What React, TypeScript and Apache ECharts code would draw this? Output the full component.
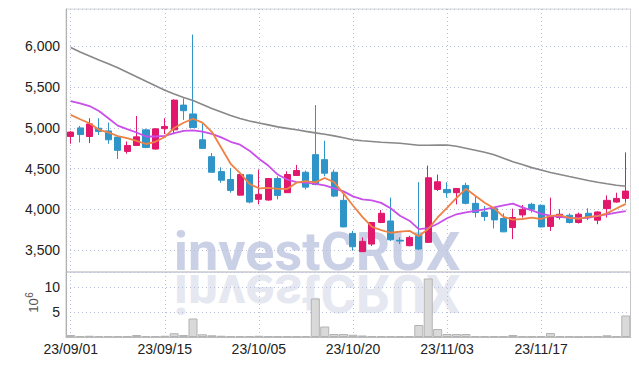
import React, { useEffect, useRef } from "react";
import * as echarts from "echarts";

const dates = [
  "23/09/01","23/09/04","23/09/05","23/09/06","23/09/07","23/09/08","23/09/11","23/09/12","23/09/13","23/09/14",
  "23/09/15","23/09/18","23/09/19","23/09/20","23/09/21","23/09/22","23/09/25","23/09/26","23/09/27","23/10/04",
  "23/10/05","23/10/06","23/10/10","23/10/11","23/10/12","23/10/13","23/10/16","23/10/17","23/10/18","23/10/19",
  "23/10/20","23/10/23","23/10/24","23/10/25","23/10/26","23/10/27","23/10/30","23/10/31","23/11/01","23/11/02",
  "23/11/03","23/11/06","23/11/07","23/11/08","23/11/09","23/11/10","23/11/13","23/11/14","23/11/15","23/11/16",
  "23/11/17","23/11/20","23/11/21","23/11/22","23/11/23","23/11/24","23/11/27","23/11/28","23/11/29","23/11/30",
];

const opens = [
  4894, 5000, 4894, 4996, 4963, 4887, 4711, 4784, 4976, 4740,
  4991, 4976, 5280, 5171, 4854, 4646, 4463, 4366, 4174, 4423,
  4122, 4114, 4378, 4204, 4415, 4455, 4671, 4610, 4455, 4110,
  3704, 3480, 3573, 3838, 3857, 3620, 3553, 3675, 3594, 4244,
  4244, 4204, 4293, 4073, 3967, 4008, 3887, 3777, 3931, 4061,
  4049, 3789, 3899, 3927, 3838, 3951, 3866, 4008, 4089, 4134,
];
const closes = [
  4948, 4918, 5049, 4955, 4854, 4724, 4784, 4890, 4760, 4988,
  5016, 5341, 5211, 5004, 4748, 4455, 4357, 4232, 4427, 4089,
  4183, 4378, 4171, 4427, 4476, 4272, 4305, 4443, 4162, 3784,
  3540, 3606, 3838, 3951, 3626, 3610, 3655, 3512, 4387, 4338,
  4204, 4256, 4073, 3960, 3911, 3870, 3723, 3899, 4000, 4000,
  3784, 3918, 3939, 3838, 3939, 3899, 3967, 4110, 4134, 4224,
];
const lows = [
  4805, 4821, 4813, 4914, 4805, 4618, 4683, 4784, 4750, 4735,
  4923, 4923, 5098, 5000, 4745, 4450, 4326, 4204, 4170, 4073,
  4061, 4105, 4122, 4200, 4410, 4244, 4293, 4406, 4150, 3780,
  3492, 3475, 3550, 3830, 3610, 3573, 3545, 3500, 3590, 4224,
  4143, 4060, 4060, 3900, 3857, 3765, 3720, 3634, 3899, 3960,
  3777, 3735, 3875, 3826, 3826, 3866, 3817, 3899, 4081, 4081,
];
const highs = [
  4960, 5024, 5118, 5118, 5065, 4890, 4833, 5146, 4990, 4995,
  5118, 5350, 5362, 6146, 5049, 4691, 4516, 4508, 4430, 4430,
  4488, 4385, 4406, 4467, 4545, 4476, 5280, 4841, 4488, 4191,
  3735, 3655, 3840, 3992, 4143, 3655, 3675, 4333, 4537, 4427,
  4333, 4260, 4326, 4160, 4040, 4028, 3950, 4008, 4053, 4081,
  4060, 4143, 4000, 3951, 3960, 4012, 3975, 4171, 4204, 4699,
];

const ma5 = [
  5159, 5106, 5057, 4976, 4945, 4900, 4873, 4841, 4802, 4829,
  4888, 4999, 5063, 5112, 5064, 4952, 4755, 4559, 4444, 4312,
  4258, 4262, 4250, 4250, 4327, 4345, 4330, 4385, 4332, 4193,
  4047, 3907, 3786, 3744, 3712, 3726, 3736, 3671, 3758, 3900,
  4019, 4139, 4252, 4166, 4081, 4014, 3907, 3873, 3881, 3898,
  3881, 3920, 3928, 3896, 3884, 3907, 3916, 3951, 4010, 4067,
];
const ma20 = [
  5329, 5301, 5268, 5207, 5118, 5028, 4984, 4943, 4894, 4894,
  4902, 4935, 4963, 4970, 4955, 4927, 4884, 4829, 4793, 4720,
  4622, 4537, 4427, 4366, 4335, 4329, 4311, 4293, 4256, 4220,
  4159, 4122, 4110, 4079, 4012, 3921, 3860, 3756, 3768, 3823,
  3890, 3939, 3963, 3982, 4000, 4024, 4049, 4070, 4024, 3988,
  3945, 3921, 3906, 3894, 3890, 3896, 3921, 3939, 3960, 3979,
];
const ma60 = [
  5988, 5933, 5884, 5835, 5787, 5738, 5683, 5628, 5573, 5518,
  5463, 5415, 5372, 5335, 5287, 5238, 5195, 5152, 5116, 5085,
  5061, 5037, 5012, 4994, 4976, 4957, 4939, 4921, 4902, 4878,
  4854, 4841, 4832, 4823, 4817, 4811, 4799, 4787, 4787, 4788,
  4789, 4774, 4750, 4726, 4701, 4671, 4628, 4585, 4549, 4512,
  4482, 4451, 4427, 4402, 4378, 4354, 4333, 4313, 4296, 4284,
];
const volumes = [
  0.4, 0.2, 0.25, 0.2, 0.2, 0.2, 0.15, 0.4, 0.2, 0.2,
  0.25, 0.75, 0.4, 3.7, 0.55, 0.35, 0.25, 0.2, 0.2, 0.2,
  0.25, 0.15, 0.15, 0.15, 0.15, 0.2, 7.7, 2.1, 0.6, 0.6,
  0.45, 0.3, 0.2, 0.2, 0.2, 0.15, 0.15, 2.4, 11.7, 1.6,
  0.6, 0.6, 0.6, 0.2, 0.2, 0.15, 0.15, 0.4, 0.2, 0.15,
  0.15, 0.8, 0.2, 0.2, 0.1, 0.1, 0.2, 0.35, 0.2, 4.3,
];

const FONT = "'Liberation Sans', Arial, sans-serif";
const GRIDLINE = { type: [1, 3] as any, color: "#b9bfd8", width: 1 };

export default function App() {
  const ref = useRef<HTMLDivElement>(null);
  useEffect(() => {
    if (!ref.current) return;
    const chart = echarts.init(ref.current, undefined, { renderer: "svg" });
    const candles = dates.map((_, i) => [opens[i], closes[i], lows[i], highs[i]]);
    chart.setOption({
      animation: false,
      backgroundColor: "#ffffff",
      grid: [
        { left: 66, right: 8.5, top: 9, height: 263, show: true, borderColor: "#d4d4d4", borderWidth: 1 },
        { left: 66, right: 8.5, top: 272, height: 65, show: true, borderColor: "#c4c4c4", borderWidth: 1 },
      ],
      graphic: [
        {
          type: "text", x: 317, y: 251, z: -10, silent: true,
          style: { text: "investCRUX", font: "bold 54px Roboto", fill: "#cad1e6", align: "center", verticalAlign: "middle" },
        },
        {
          type: "text", x: 317, y: 293, scaleY: -1, z: -10, silent: true,
          style: { text: "investCRUX", font: "bold 54px Roboto", fill: "#e5e8f1", align: "center", verticalAlign: "middle" },
        },
        {
          type: "text", x: 33, y: 305.5, rotation: Math.PI / 2, silent: true,
          style: { text: "10", font: "13px 'Liberation Sans', sans-serif", fill: "#555", align: "center", verticalAlign: "middle" },
        },
        {
          type: "text", x: 29.5, y: 295, rotation: Math.PI / 2, silent: true,
          style: { text: "6", font: "10px 'Liberation Sans', sans-serif", fill: "#555", align: "center", verticalAlign: "middle" },
        },
      ],
      xAxis: [
        {
          type: "category", gridIndex: 0, data: dates, boundaryGap: true,
          axisLine: { show: false }, axisTick: { show: false }, axisLabel: { show: false },
          splitLine: { show: true, interval: 9, alignWithLabel: true, lineStyle: GRIDLINE },
        },
        {
          type: "category", gridIndex: 1, data: dates, boundaryGap: true,
          axisLine: { show: true, lineStyle: { color: "#bbbbbb" } }, axisTick: { show: false },
          axisLabel: { interval: 9, color: "#222", fontFamily: FONT, fontSize: 14, margin: 5 },
          splitLine: { show: true, interval: 9, alignWithLabel: true, lineStyle: GRIDLINE },
        },
      ],
      yAxis: [
        {
          type: "value", gridIndex: 0, min: 3230, max: 6460, scale: true,
          axisLine: { show: true, lineStyle: { color: "#b0b0b0" } }, axisTick: { show: false },
          axisLabel: {
            color: "#222", fontFamily: FONT, fontSize: 14, margin: 6,
            formatter: (v: number) => (v % 500 === 0 ? v.toLocaleString("en-US") : ""),
          },
          splitLine: { show: true, lineStyle: GRIDLINE },
        },
        {
          type: "value", gridIndex: 1, min: 0, max: 13, interval: 5,
          axisLine: { show: true, lineStyle: { color: "#b0b0b0" } }, axisTick: { show: false },
          axisLabel: {
            color: "#222", fontFamily: FONT, fontSize: 14, margin: 6,
            formatter: (v: number) => (v === 5 || v === 10 ? String(v) : ""),
          },
          splitLine: { show: true, lineStyle: GRIDLINE },
        },
      ],
      series: [
        {
          type: "bar", xAxisIndex: 1, yAxisIndex: 1, data: volumes, barCategoryGap: "4%",
          itemStyle: { color: "#d9d9d9", borderColor: "#b3b3b3", borderWidth: 1 },
        },
        {
          type: "candlestick", xAxisIndex: 0, yAxisIndex: 0, data: candles, barWidth: "70%",
          itemStyle: { color: "#e2186c", color0: "#2f95c9", borderColor: "#e2186c", borderColor0: "#2f95c9", borderWidth: 1 },
        },
        {
          type: "line", xAxisIndex: 0, yAxisIndex: 0, data: ma60, showSymbol: false, silent: true,
          lineStyle: { color: "#888888", width: 1.6 },
        },
        {
          type: "line", xAxisIndex: 0, yAxisIndex: 0, data: ma20, showSymbol: false, silent: true,
          lineStyle: { color: "#c94fe9", width: 1.8 },
        },
        {
          type: "line", xAxisIndex: 0, yAxisIndex: 0, data: ma5, showSymbol: false, silent: true,
          lineStyle: { color: "#ee8244", width: 1.8 },
        },
      ],
    });
    return () => chart.dispose();
  }, []);
  return <div ref={ref} style={{ width: 639, height: 366, position: "absolute", left: 0, top: 0 }} />;
}
